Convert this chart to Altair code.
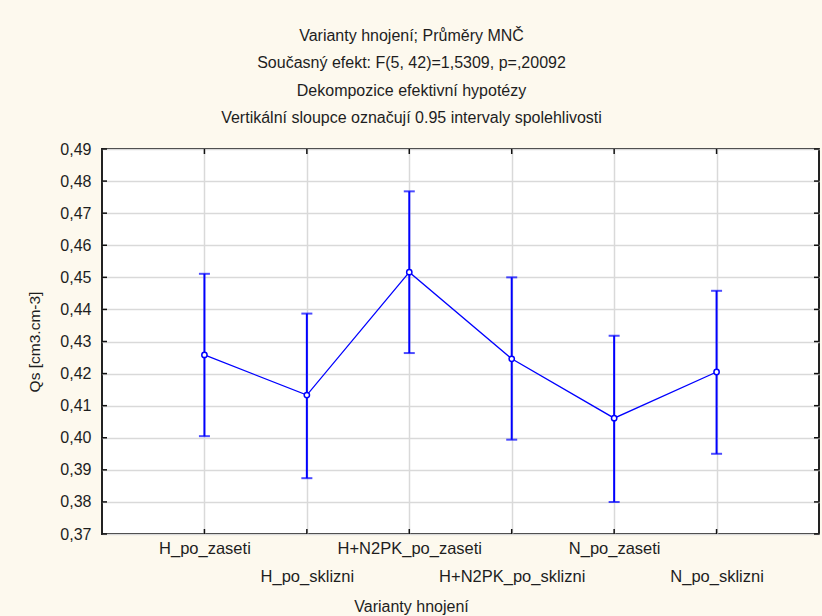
import altair as alt
import pandas as pd

# Group means of Qs with their 0.95 confidence limits
categories = ["H_po_zaseti", "H_po_sklizni", "H+N2PK_po_zaseti",
              "H+N2PK_po_sklizni", "N_po_zaseti", "N_po_sklizni"]
means = [0.4258, 0.4133, 0.4516, 0.4246, 0.4061, 0.4205]
lower = [0.4005, 0.3874, 0.4264, 0.3994, 0.3800, 0.3950]
upper = [0.4511, 0.4387, 0.4768, 0.4500, 0.4318, 0.4458]

y_ticks = [0.37, 0.38, 0.39, 0.40, 0.41, 0.42, 0.43, 0.44, 0.45, 0.46, 0.47, 0.48, 0.49]

title_lines = [
    "Varianty hnojení; Průměry MNČ",
    "Současný efekt: F(5, 42)=1,5309, p=,20092",
    "Dekompozice efektivní hypotézy",
    "Vertikální sloupce označují 0.95 intervaly spolehlivosti",
]

df = pd.DataFrame({"cat": categories, "mean": means, "lo": lower, "hi": upper})
ticks_df = pd.DataFrame({"v": y_ticks})

W, H = 717, 385
FONT = "Liberation Sans"
BLUE = "#0000ff"
TXT = "#1e1e1e"

x_axis = alt.Axis(
    title="Varianty hnojení",
    labelAngle=0,
    labelFont=FONT,
    labelFontSize=16.5,
    labelColor=TXT,
    labelPadding={"condition": {"test": "indexof(datum.value, 'sklizni') >= 0", "value": 34},
                  "value": 6},
    ticks=False,
    domain=False,
    grid=True,
    gridColor="#d9d9d9",
    gridWidth=1.5,
    titleFont=FONT,
    titleFontSize=16,
    titleFontWeight="normal",
    titleColor=TXT,
    titleX=309,
    titleY=72,
    titleBaseline="middle",
    titleAlign="center",
    labelOverlap=False,
)
x_scale = alt.Scale(type="point", padding=1)

y_scale = alt.Scale(domain=[0.37, 0.49], nice=False, zero=False)
y_axis = alt.Axis(
    title="Qs [cm3.cm-3]",
    values=y_ticks,
    labelExpr="replace(format(datum.value, '.2f'), '.', ',')",
    labelFont=FONT,
    labelFontSize=16,
    labelColor=TXT,
    labelPadding=11,
    labelOverlap=False,
    ticks=False,
    domain=False,
    grid=True,
    gridColor="#d9d9d9",
    gridWidth=1.5,
    titleFont=FONT,
    titleFontSize=15.5,
    titleFontWeight="normal",
    titleColor=TXT,
    titlePadding=17,
)


def X():
    return alt.X("cat:N", sort=categories, scale=x_scale, axis=x_axis)


def Y(field):
    return alt.Y(field, scale=y_scale, axis=y_axis)


base = alt.Chart(df)

bars = base.mark_rule(color=BLUE, strokeWidth=2).encode(
    x=X(), y=Y("lo:Q"), y2="hi:Q"
)
cap_hi = base.mark_tick(color=BLUE, orient="horizontal", size=11, thickness=2).encode(
    x=X(), y=Y("hi:Q")
)
cap_lo = base.mark_tick(color=BLUE, orient="horizontal", size=11, thickness=2).encode(
    x=X(), y=Y("lo:Q")
)
line = base.mark_line(color=BLUE, strokeWidth=1.3).encode(x=X(), y=Y("mean:Q"))
pts = base.mark_point(shape="circle", size=28, filled=False, color=BLUE,
                      fill="white", fillOpacity=1, strokeWidth=1.5).encode(
    x=X(), y=Y("mean:Q")
)

# inward tick marks on all four sides of the frame
tk = alt.Chart(ticks_df)
left_ticks = tk.mark_rule(color="#111", strokeWidth=1.5).encode(
    y=Y("v:Q"), x=alt.value(0), x2=alt.value(5)
)
right_ticks = tk.mark_rule(color="#111", strokeWidth=1.5).encode(
    y=Y("v:Q"), x=alt.value(W - 5), x2=alt.value(W)
)
bottom_ticks = base.mark_rule(color="#111", strokeWidth=1.5).encode(
    x=X(), y=alt.value(H), y2=alt.value(H - 5)
)
top_ticks = base.mark_rule(color="#111", strokeWidth=1.5).encode(
    x=X(), y=alt.value(0), y2=alt.value(5)
)

chart = (
    alt.layer(bars, cap_hi, cap_lo, line, pts,
              left_ticks, right_ticks, bottom_ticks, top_ticks)
    .properties(
        width=W,
        height=H,
        autosize=alt.AutoSizeParams(type="none"),
        padding={"left": 102, "top": 149, "right": 3, "bottom": 82},
        background="#fdf9ee",
        title=alt.TitleParams(
            text=title_lines,
            font=FONT,
            fontSize=16,
            fontWeight="normal",
            color=TXT,
            lineHeight=27.5,
            anchor="middle",
            dx=-49,
            offset=15,
        ),
    )
    .configure_view(fill="white", stroke="#222", strokeWidth=2)
)

chart.save("out.html", embed_options={"renderer": "svg", "actions": False})
